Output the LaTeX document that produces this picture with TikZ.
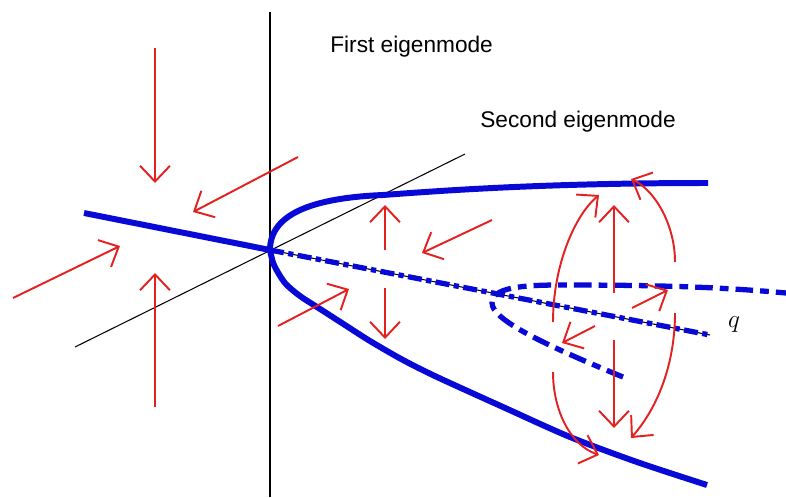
\documentclass[tikz,border=0pt]{standalone}
\usepackage{fontspec}
\setmainfont{Liberation Sans}
\usetikzlibrary{arrows.meta}
\definecolor{modeblue}{RGB}{8,8,215}
\definecolor{flowred}{RGB}{228,32,32}

\begin{document}
\begin{tikzpicture}[x=0.02cm,y=-0.02cm,
  every node/.style={font=\fontsize{12.9}{15}\selectfont},
  axis/.style={black,line width=0.6pt},
  branch/.style={modeblue,line width=3.4pt},
  unstable/.style={modeblue,line width=3pt,dash pattern=on 8pt off 2.5pt on 3pt off 2.5pt},
  flow/.style={flowred,line width=1.1pt,-{Straight Barb[length=9pt,width=17pt]}}]
\useasboundingbox (0,0) rectangle (786,497);
\coordinate (O) at (270,250);
% Axes
\draw[axis] (270,12) -- (270,497);
\draw[axis] (75,347) -- (465,154);
\draw[axis] (O) -- (710,335);
% Stable branches
\draw[branch] (84,213) -- (O);
\draw[branch] (O) .. controls (270,215) and (310,198) .. (383,195)
  .. controls (450,190) and (550,183) .. (708,183);
\draw[branch] plot[smooth] coordinates {(270,250) (274,265) (285,283) (300,296) (317,307)
  (345,325) (370,341) (403,360) (437,377) (503,407) (570,437) (637,462) (707,485)};
% Unstable branches
\draw[unstable] (O) -- (710,335);
\draw[unstable,dash pattern=on 10pt off 4pt on 5pt off 4pt] (623,377)
  .. controls (545,345) and (492,320) .. (492,303)
  .. controls (492,288) and (520,285) .. (560,285) .. controls (660,285) and (720,287) .. (786,293);
% Flow arrows
\foreach \xa/\ya/\xb/\yb in {155/48/155/183, 298/157/193/212, 13/298/120/246, 155/407/155/273,
  385/250/385/205, 385/288/385/339, 278/326/349/289, 492/220/422/253,
  614/293/614/205, 614/340/614/428, 632/308/668/290, 595/326/562/343}
  \draw[flow] (\xa,\ya) -- (\xb,\yb);
% Rotation round q
\draw[flow] (553,322) .. controls (553,265) and (575,215) .. (599,195);
\draw[flow] (675,262) .. controls (675,225) and (655,190) .. (631,179);
\draw[flow] (675,313) .. controls (675,360) and (660,405) .. (631,438);
\draw[flow] (553,372) .. controls (553,410) and (570,445) .. (599,455);
% Labels
\node[anchor=base west,inner sep=0pt] (first) at (330,52) {First eigenmode};
\node[anchor=base west,inner sep=0pt] (second) at (480,127) {Second eigenmode};
\node (qlab) at (734,325) {\fontsize{14}{16}\selectfont$q$};
\end{tikzpicture}
\end{document}
